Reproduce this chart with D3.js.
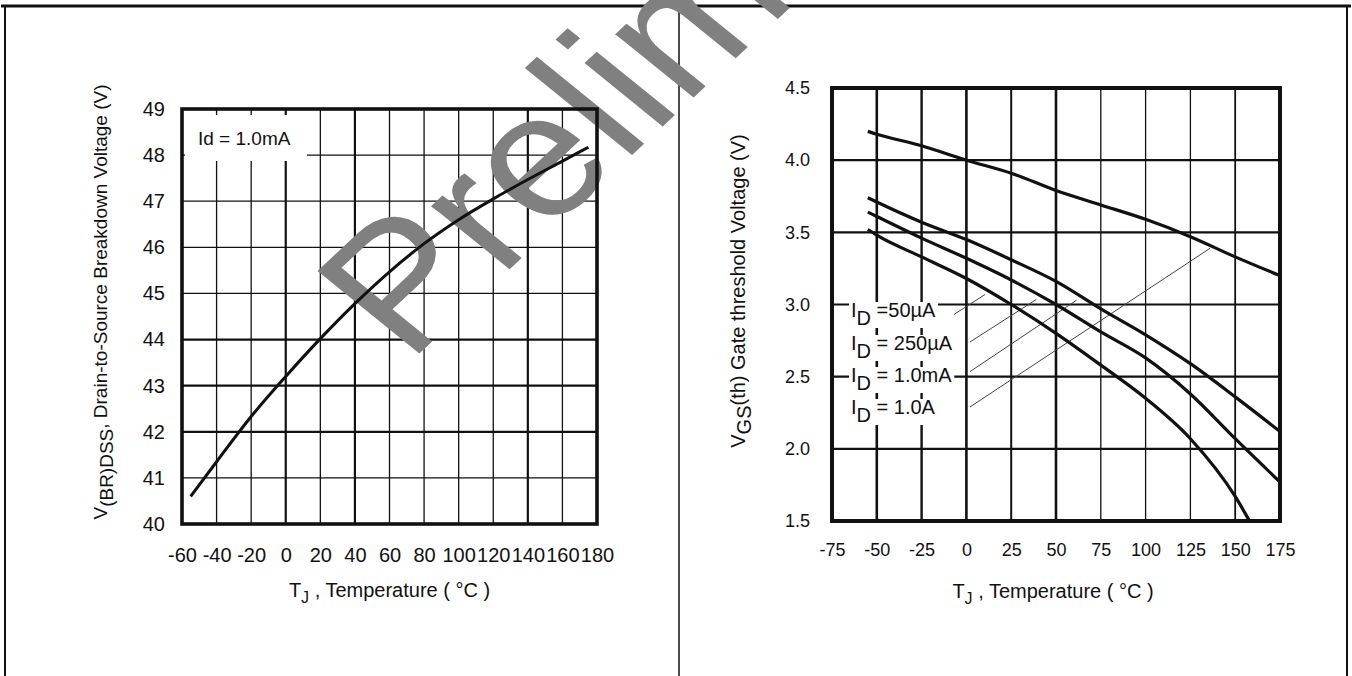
<!DOCTYPE html>
<html>
<head>
<meta charset="utf-8">
<script src="https://cdn.jsdelivr.net/npm/d3@7"></script>
<style>
  html, body { margin: 0; padding: 0; background: #fff; }
  svg { display: block; font-family: "Liberation Sans", Arial, Helvetica, sans-serif; }
</style>
</head>
<body>
<svg id="sheet" width="1352" height="676"></svg>
<script>
// ---- Breakdown voltage vs. junction temperature (Id = 1.0mA) ----
const bvTemps = [-55, -40, -20, 0, 20, 40, 60, 80, 100, 120, 140, 160, 175];
const bvVolts = [40.6, 41.35, 42.33, 43.2, 44.02, 44.78, 45.47, 46.08, 46.6, 47.05, 47.47, 47.87, 48.17];
const bvXTicks = [-60, -40, -20, 0, 20, 40, 60, 80, 100, 120, 140, 160, 180];
const bvYTicks = [40, 41, 42, 43, 44, 45, 46, 47, 48, 49];

// ---- Gate threshold voltage vs. junction temperature ----
const vthTemps = [-55, -50, -25, 0, 25, 50, 75, 100, 125, 150, 175];
const vth1A    = [4.20, 4.18, 4.10, 4.00, 3.91, 3.79, 3.69, 3.59, 3.47, 3.33, 3.20];
const vth1mA   = [3.74, 3.71, 3.57, 3.45, 3.31, 3.16, 2.97, 2.79, 2.59, 2.36, 2.12];
const vth250uA = [3.64, 3.61, 3.46, 3.32, 3.17, 3.00, 2.81, 2.63, 2.38, 2.07, 1.77];
const vth50uATemps = [-55, -50, -25, 0, 25, 50, 75, 100, 125, 150, 158];
const vth50uA      = [3.52, 3.48, 3.33, 3.18, 3.00, 2.80, 2.58, 2.35, 2.07, 1.67, 1.50];
const vthXTicks = [-75, -50, -25, 0, 25, 50, 75, 100, 125, 150, 175];
const vthYTicks = [1.5, 2.0, 2.5, 3.0, 3.5, 4.0, 4.5];

// Curve labels and the point on each curve their leader line reaches
const vthLabels  = ["=50µA", "= 250µA", "= 1.0mA", "= 1.0A"];
const leaderFrom = [[-7, 2.93], [2, 2.74], [2, 2.535], [2, 2.29]];
const leaderTo   = [[10.5, 3.07], [39, 3.035], [61.5, 3.03], [136, 3.39]];

const svg = d3.select("#sheet");
const INK = "#111";
const FONT = "Liberation Sans, Arial, sans-serif";

// ---- page frame ----
const frame = svg.append("g").attr("stroke", INK).attr("fill", "none");
frame.append("line").attr("x1", 1).attr("x2", 1351).attr("y1", 6).attr("y2", 6).attr("stroke-width", 3);
frame.append("line").attr("x1", 5).attr("x2", 5).attr("y1", 6).attr("y2", 676).attr("stroke-width", 2);
frame.append("line").attr("x1", 679).attr("x2", 679).attr("y1", 6).attr("y2", 676).attr("stroke-width", 1.5);
frame.append("line").attr("x1", 1347).attr("x2", 1347).attr("y1", 6).attr("y2", 676).attr("stroke-width", 2);

// ================= left chart =================
const x1 = d3.scaleLinear().domain([-60, 180]).range([182, 597]);
const y1 = d3.scaleLinear().domain([40, 49]).range([524, 109]);
const heavyX1 = new Set([0, 40, 140]);
const heavyY1 = new Set([42, 43, 44]);

const g1 = svg.append("g");
const grid1 = g1.append("g").attr("stroke", INK);
grid1.selectAll("line.v").data(bvXTicks.slice(1, -1)).join("line")
  .attr("x1", d => x1(d)).attr("x2", d => x1(d))
  .attr("y1", y1(49)).attr("y2", y1(40))
  .attr("stroke-width", d => heavyX1.has(d) ? 2.2 : 1.3);
grid1.selectAll("line.h").data(bvYTicks.slice(1, -1)).join("line")
  .attr("x1", x1(-60)).attr("x2", x1(180))
  .attr("y1", d => y1(d)).attr("y2", d => y1(d))
  .attr("stroke-width", d => heavyY1.has(d) ? 2.2 : 1.3);

// white panel behind the test-condition note
g1.append("rect").attr("x", x1(-60) + 3).attr("y", y1(49) + 6)
  .attr("width", 122).attr("height", 46).attr("fill", "#fff");
g1.append("text").attr("x", x1(-60) + 16).attr("y", 145)
  .attr("font-size", 19).attr("fill", INK).text("Id = 1.0mA");

// axes (labels only)
const ax1 = g1.append("g").attr("transform", `translate(0,${y1(40)})`)
  .call(d3.axisBottom(x1).tickValues(bvXTicks).tickFormat(d => String(d)).tickSize(0).tickPadding(24));
const ay1 = g1.append("g").attr("transform", `translate(${x1(-60)},0)`)
  .call(d3.axisLeft(y1).tickValues(bvYTicks).tickFormat(d => String(d)).tickSize(0).tickPadding(17));
[ax1, ay1].forEach(a => {
  a.select(".domain").remove();
  a.selectAll("text").attr("font-size", 20).attr("fill", INK).attr("font-family", FONT);
});

// axis titles
const tx1 = g1.append("text").attr("x", (x1(-60) + x1(180)) / 2).attr("y", 597)
  .attr("text-anchor", "middle").attr("font-size", 20).attr("fill", INK);
tx1.append("tspan").text("T");
tx1.append("tspan").attr("dy", 6).attr("font-size", 16).text("J");
tx1.append("tspan").attr("dy", -6).text(" , Temperature ( °C )");

const ty1 = g1.append("text").attr("transform", "translate(107,302) rotate(-90)")
  .attr("text-anchor", "middle").attr("font-size", 19).attr("fill", INK);
ty1.append("tspan").text("V");
ty1.append("tspan").attr("dy", 6).text("(BR)DSS");
ty1.append("tspan").attr("dy", -6).text(", Drain-to-Source Breakdown Voltage (V)");

// ================= right chart =================
const x2 = d3.scaleLinear().domain([-75, 175]).range([832, 1280]);
const y2 = d3.scaleLinear().domain([1.5, 4.5]).range([521, 88]);
const gridW2 = { "-50": 2.6, "-25": 2.4, "0": 2.6, "25": 2.0, "50": 2.6, "75": 1.3, "100": 1.3, "125": 1.3, "150": 1.8 };

const g2 = svg.append("g");
const grid2 = g2.append("g").attr("stroke", INK);
grid2.selectAll("line.v").data(vthXTicks.slice(1, -1)).join("line")
  .attr("x1", d => x2(d)).attr("x2", d => x2(d))
  .attr("y1", y2(4.5)).attr("y2", y2(1.5))
  .attr("stroke-width", d => gridW2[d]);
grid2.selectAll("line.h").data(vthYTicks.slice(1, -1)).join("line")
  .attr("x1", x2(-75)).attr("x2", x2(175))
  .attr("y1", d => y2(d)).attr("y2", d => y2(d))
  .attr("stroke-width", 2.2);

// curve labels with white backing
const labelX = x2(-75) + 19;
const labelBase = [317, 350, 382, 414];
vthLabels.forEach((txt, i) => {
  const t = g2.append("text").attr("x", labelX).attr("y", labelBase[i])
    .attr("font-size", 20).attr("fill", INK);
  t.append("tspan").text("I");
  t.append("tspan").attr("dy", 8).text("D");
  t.append("tspan").attr("dy", -8).text(" " + txt);
  const bb = t.node().getBBox();
  g2.insert("rect", "text").attr("x", bb.x - 2).attr("y", labelBase[i] - 15)
    .attr("width", bb.width + 4).attr("height", 26).attr("fill", "#fff");
});

// leader lines from the labels to their curves
g2.append("g").attr("stroke", "#444").attr("stroke-width", 1)
  .selectAll("line").data(d3.range(leaderFrom.length)).join("line")
  .attr("x1", i => x2(leaderFrom[i][0])).attr("y1", i => y2(leaderFrom[i][1]))
  .attr("x2", i => x2(leaderTo[i][0])).attr("y2", i => y2(leaderTo[i][1]));

// axes (labels only)
const ax2 = g2.append("g").attr("transform", `translate(0,${y2(1.5)})`)
  .call(d3.axisBottom(x2).tickValues(vthXTicks).tickFormat(d => String(d)).tickSize(0).tickPadding(22));
const ay2 = g2.append("g").attr("transform", `translate(${x2(-75)},0)`)
  .call(d3.axisLeft(y2).tickValues(vthYTicks).tickFormat(d3.format(".1f")).tickSize(0).tickPadding(22));
[ax2, ay2].forEach(a => {
  a.select(".domain").remove();
  a.selectAll("text").attr("font-size", 18).attr("fill", INK).attr("font-family", FONT);
});

const tx2 = g2.append("text").attr("x", (x2(-75) + x2(175)) / 2 - 3).attr("y", 598)
  .attr("text-anchor", "middle").attr("font-size", 20).attr("fill", INK);
tx2.append("tspan").text("T");
tx2.append("tspan").attr("dy", 6).attr("font-size", 16).text("J");
tx2.append("tspan").attr("dy", -6).text(" , Temperature ( °C )");

const ty2 = g2.append("text").attr("transform", "translate(745,291) rotate(-90)")
  .attr("text-anchor", "middle").attr("font-size", 20).attr("fill", INK);
ty2.append("tspan").text("V");
ty2.append("tspan").attr("dy", 6).text("GS");
ty2.append("tspan").attr("dy", -6).text("(th) Gate threshold Voltage (V)");

// ---- watermark (above grids and frame, below the curves) ----
svg.append("text")
  .attr("transform", "translate(408,364) scale(1.15,1) rotate(-47)")
  .attr("font-size", 176).attr("fill", "#808080").attr("font-family", FONT)
  .text("Preliminary");

// ---- curves ----
const line1 = d3.line().x(d => x1(d[0])).y(d => y1(d[1])).curve(d3.curveMonotoneX);
svg.append("path").datum(d3.zip(bvTemps, bvVolts))
  .attr("d", line1).attr("fill", "none").attr("stroke", INK).attr("stroke-width", 3);

const line2 = d3.line().x(d => x2(d[0])).y(d => y2(d[1])).curve(d3.curveMonotoneX);
const vthSeries = [
  d3.zip(vthTemps, vth1A),
  d3.zip(vthTemps, vth1mA),
  d3.zip(vthTemps, vth250uA),
  d3.zip(vth50uATemps, vth50uA)
];
svg.append("g").selectAll("path").data(vthSeries).join("path")
  .attr("d", line2).attr("fill", "none").attr("stroke", INK).attr("stroke-width", 3.2);

// ---- plot borders ----
svg.append("rect").attr("x", x1(-60)).attr("y", y1(49))
  .attr("width", x1(180) - x1(-60)).attr("height", y1(40) - y1(49))
  .attr("fill", "none").attr("stroke", INK).attr("stroke-width", 3.6);
svg.append("rect").attr("x", x2(-75)).attr("y", y2(4.5))
  .attr("width", x2(175) - x2(-75)).attr("height", y2(1.5) - y2(4.5))
  .attr("fill", "none").attr("stroke", INK).attr("stroke-width", 4);
</script>
</body>
</html>
